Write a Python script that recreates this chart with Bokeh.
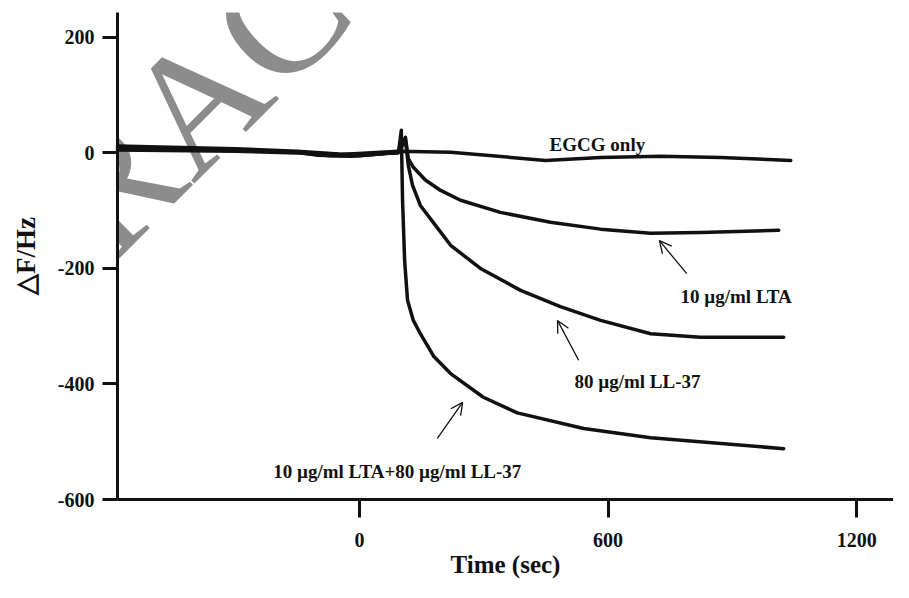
from bokeh.plotting import figure
from bokeh.models import Range1d, FixedTicker, Label, Arrow, OpenHead
from bokeh.embed import file_html
from bokeh.resources import INLINE

# ---- data (time in sec, frequency shift in Hz) ----
egcg_t = [-584, -384, -142, -46, 51, 94, 220, 449, 582, 727, 872, 1041]
egcg_f = [10, 6, 1, -3, 1, 3, 1, -13, -8, -6, -8, -13]

lta_t = [-584, -300, -150, -50, 30, 80, 94, 111, 118, 130, 159, 196, 244, 340, 461, 582, 703, 823, 1012]
lta_f = [12, 7, 3, -2, -3, 0, 1, 27, -10, -25, -47, -65, -82, -103, -120, -132, -139, -138, -134]

ll37_t = [-584, -300, -150, -100, -20, 50, 94, 111, 118, 128, 147, 184, 220, 292, 389, 485, 582, 703, 823, 1024]
ll37_f = [8, 5, 1, -4, -6, -2, 1, 22, -22, -56, -91, -126, -160, -200, -238, -266, -290, -313, -319, -319]

combo_t = [-584, -300, -150, -70, 0, 60, 94, 101, 104, 109, 116, 130, 147, 179, 220, 299, 381, 541, 703, 1024]
combo_f = [5, 3, 0, -5, -5, -1, 0, 39, -82, -186, -255, -290, -313, -352, -382, -423, -450, -477, -493, -512]

x_ticks = [0, 600, 1200]
y_ticks = [-600, -400, -200, 0, 200]
y_tick_labels = ["-600", "-400", "-200", "0", "200"]

FONT = "Liberation Serif"

p = figure(width=893, height=582, x_range=Range1d(-584, 1289), y_range=Range1d(-600, 243),
           output_backend="svg", toolbar_location=None,
           min_border_left=117, min_border_right=0, min_border_top=12, min_border_bottom=83)
p.outline_line_color = None
p.grid.visible = False
p.background_fill_color = "white"
p.border_fill_color = "white"

# watermark (drawn beneath the curves and axes)
wm = Label(text="RETRACTED", x=-1240, y=-517, angle=45, angle_units="deg",
           text_font=FONT, text_font_size="170px", text_color="#8c8c8c",
           text_align="left", text_baseline="alphabetic")
p.add_layout(wm)

for t, f in [(egcg_t, egcg_f), (lta_t, lta_f), (ll37_t, ll37_f), (combo_t, combo_f)]:
    r = p.line(t, f, line_color="#111111", line_width=3.5, line_join="round", line_cap="round")
    r.level = "overlay"

# axes
for ax in (p.xaxis[0], p.yaxis[0]):
    ax.level = "overlay"
    ax.axis_line_width = 3
    ax.axis_line_color = "#111111"
    ax.major_tick_line_width = 3
    ax.major_tick_line_color = "#111111"
    ax.major_tick_in = 0
    ax.minor_tick_line_color = None
    ax.major_label_text_font = FONT
    ax.major_label_text_font_style = "bold"
    ax.major_label_text_font_size = "20px"
    ax.major_label_text_color = "#111111"
    ax.axis_label_text_font = FONT
    ax.axis_label_text_font_style = "bold"
    ax.axis_label_text_color = "#111111"

p.xaxis.ticker = FixedTicker(ticks=x_ticks)
p.xaxis.major_label_overrides = {v: str(v) for v in x_ticks}
p.xaxis.major_tick_out = 18
p.xaxis.major_label_standoff = 15
p.xaxis.axis_label = "Time (sec)"
p.xaxis.axis_label_text_font_size = "25px"
p.xaxis.axis_label_standoff = 1

p.yaxis.ticker = FixedTicker(ticks=y_ticks)
p.yaxis.major_label_overrides = dict(zip(y_ticks, y_tick_labels))
p.yaxis.major_tick_out = 15
p.yaxis.major_label_standoff = 8
p.yaxis.axis_label = "△F/Hz"
p.yaxis.axis_label_text_font_size = "27px"
p.yaxis.axis_label_standoff = 14

# annotations
labels = [("EGCG only", 459, 15), ("10 µg/ml LTA", 775, -248),
          ("80 µg/ml LL-37", 519, -396), ("10 µg/ml LTA+80 µg/ml LL-37", -208, -551)]
for txt, lx, ly in labels:
    p.add_layout(Label(text=txt, x=lx, y=ly, text_font=FONT, text_font_style="bold",
                       text_font_size="19px", text_color="#111111",
                       text_align="left", text_baseline="alphabetic"))

arrows = [(790, -209, 724, -152), (529, -359, 478, -290), (188, -494, 249, -432)]
for xs, ys, xe, ye in arrows:
    p.add_layout(Arrow(end=OpenHead(size=12, line_width=1.3, line_color="#111111"),
                       x_start=xs, y_start=ys, x_end=xe, y_end=ye,
                       line_width=1.3, line_color="#111111"))

open("out.html", "w").write(file_html(p, INLINE))
